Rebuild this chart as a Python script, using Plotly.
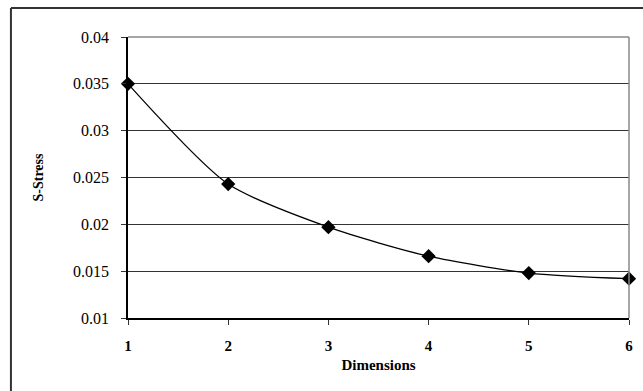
import plotly.graph_objects as go

# dados
dimensions = [1, 2, 3, 4, 5, 6]
s_stress = [0.0350, 0.0243, 0.0197, 0.0166, 0.0148, 0.0142]

y_ticks = [0.01, 0.015, 0.02, 0.025, 0.03, 0.035, 0.04]
y_labels = ["0.01", "0.015", "0.02", "0.025", "0.03", "0.035", "0.04"]

serif = "Liberation Serif, Times New Roman, serif"

fig = go.Figure()
fig.add_trace(
    go.Scatter(
        x=dimensions,
        y=s_stress,
        mode="lines+markers",
        line=dict(color="black", width=1.3, shape="spline", smoothing=0.7),
        marker=dict(symbol="diamond", size=11, color="black"),
        cliponaxis=False,
        showlegend=False,
    )
)

fig.update_layout(
    width=643,
    height=391,
    margin=dict(l=128, r=10, t=37, b=73),
    paper_bgcolor="white",
    plot_bgcolor="white",
    font=dict(family=serif, color="black"),
    xaxis=dict(
        range=[1, 6],
        tickvals=dimensions,
        tickfont=dict(size=15, family=serif, weight="bold"),
        ticks="outside",
        ticklen=5,
        tickcolor="#333",
        ticklabelstandoff=8,
        showline=True,
        linecolor="black",
        linewidth=1.5,
        showgrid=False,
        zeroline=False,
        title=dict(
            text="Dimensions",
            font=dict(size=15, family=serif, weight="bold"),
            standoff=7,
        ),
    ),
    yaxis=dict(
        range=[0.01, 0.04],
        tickvals=y_ticks,
        ticktext=y_labels,
        tickfont=dict(size=16, family=serif),
        ticks="outside",
        ticklen=5,
        tickcolor="#333",
        ticklabelstandoff=9,
        showline=True,
        linecolor="black",
        linewidth=1.5,
        showgrid=True,
        gridcolor="#333",
        gridwidth=1,
        zeroline=False,
        title=dict(
            text="S-Stress",
            font=dict(size=14, family=serif, weight="bold"),
            standoff=26,
        ),
    ),
)

# borda do plot (topo e direita em cinza)
fig.add_shape(type="line", xref="paper", yref="paper", x0=0, y0=1, x1=1, y1=1,
              line=dict(color="#888", width=1.5))
fig.add_shape(type="line", xref="paper", yref="paper", x0=1, y0=0, x1=1, y1=1,
              line=dict(color="#888", width=1.5))

# moldura externa do grafico (so topo e esquerda aparecem)
bx = (10 - 128) / 505
by = (318 - 8) / 281
fig.add_shape(type="line", xref="paper", yref="paper", x0=bx, y0=-0.4, x1=bx, y1=by,
              line=dict(color="#333", width=2))
fig.add_shape(type="line", xref="paper", yref="paper", x0=bx, y0=by, x1=1.1, y1=by,
              line=dict(color="#333", width=2))

# tira a margem padrao do body para a figura ocupar a janela toda
fig.write_html(
    "out.html",
    config={"displayModeBar": False},
    post_script="document.body.style.margin='0';",
)
